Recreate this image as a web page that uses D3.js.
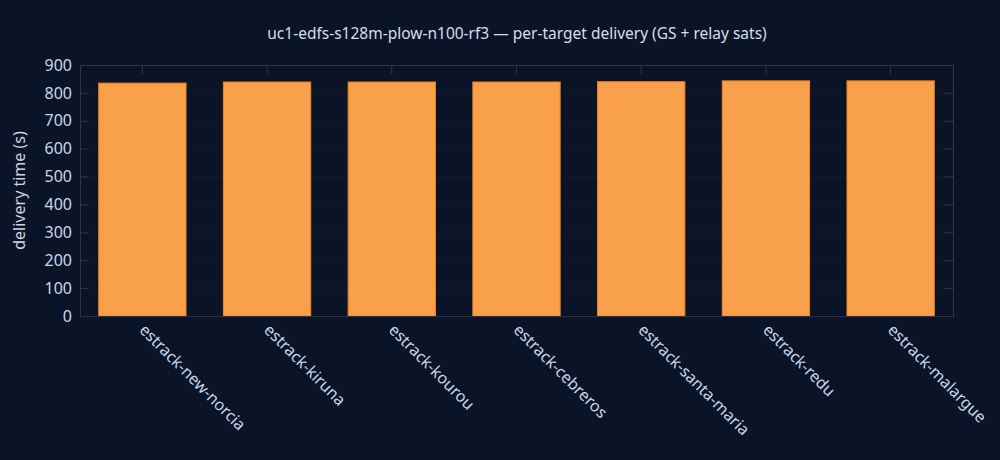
<!DOCTYPE html>
<html>
<head>
<meta charset="utf-8">
<script src="https://cdn.jsdelivr.net/npm/d3@7"></script>
<style>
  body { margin: 0; background: #0b1426; }
  svg { display: block; }
  svg text { font-family: "Noto Sans", "Open Sans", sans-serif; }
</style>
</head>
<body>
<div id="chart"></div>
<script>
// data
const targets = ["estrack-new-norcia", "estrack-kiruna", "estrack-kourou", "estrack-cebreros",
                 "estrack-santa-maria", "estrack-redu", "estrack-malargue"]
const deliverySec = [835, 839, 839, 839, 840, 843, 843]
const yTicks = [0, 100, 200, 300, 400, 500, 600, 700, 800, 900]

const dims = {
  width: 1000,
  height: 460,
  margin: { top: 65, right: 47, bottom: 144, left: 80 }
}
dims.boundedWidth = dims.width - dims.margin.left - dims.margin.right
dims.boundedHeight = dims.height - dims.margin.top - dims.margin.bottom

const axisCol = "#2a3650"
const textCol = "#c9d6ea"
const fontSize = "16px"

const svg = d3.select("#chart").append("svg")
  .attr("width", dims.width)
  .attr("height", dims.height)

svg.append("rect").attr("width", dims.width).attr("height", dims.height).attr("fill", "#0b1426")

svg.append("text")
  .attr("x", 517).attr("y", 39)
  .attr("text-anchor", "middle")
  .attr("fill", "#d3deee")
  .style("font-size", "15.5px")
  .text("uc1-edfs-s128m-plow-n100-rf3 — per-target delivery (GS + relay sats)")

const bounds = svg.append("g")
  .attr("transform", `translate(${dims.margin.left},${dims.margin.top})`)

const x = d3.scaleBand()
  .domain(targets)
  .range([0, dims.boundedWidth])
  .paddingInner(0.3)
  .paddingOuter(0.15)

const y = d3.scaleLinear()
  .domain([0, 900])
  .range([dims.boundedHeight, 0])

// dotted grid
bounds.append("g")
  .selectAll("line")
  .data(yTicks.slice(1, -1))
  .join("line")
  .attr("x1", 0).attr("x2", dims.boundedWidth)
  .attr("y1", d => y(d)).attr("y2", d => y(d))
  .attr("stroke", "#1f2b42")
  .attr("stroke-dasharray", "1,3")

// bars
bounds.selectAll("rect.bar")
  .data(targets)
  .join("rect")
  .attr("class", "bar")
  .attr("x", d => x(d))
  .attr("width", x.bandwidth())
  .attr("y", (d, i) => y(deliverySec[i]))
  .attr("height", (d, i) => dims.boundedHeight - y(deliverySec[i]))
  .attr("fill", "#f9a04a")
  .attr("stroke", "#f5821f")
  .attr("stroke-width", 1)

// left axis
const yAxis = bounds.append("g")
  .call(d3.axisLeft(y).tickValues(yTicks).tickSize(0).tickPadding(8))
  .attr("font-family", null).attr("font-size", null)
yAxis.select(".domain").attr("stroke", axisCol)
yAxis.selectAll("text").attr("fill", textCol).style("font-size", fontSize)

// inner ticks left & right
bounds.append("g").call(d3.axisRight(y).tickValues(yTicks.slice(1, -1)).tickSize(8).tickFormat(""))
  .call(g => g.select(".domain").remove())
  .selectAll("line").attr("stroke", axisCol)
bounds.append("g").attr("transform", `translate(${dims.boundedWidth},0)`)
  .call(d3.axisLeft(y).tickValues(yTicks.slice(1, -1)).tickSize(8).tickFormat(""))
  .call(g => g.select(".domain").attr("stroke", axisCol))
  .selectAll("line").attr("stroke", axisCol)

// top mirror axis
bounds.append("g")
  .call(d3.axisBottom(x).tickSize(9).tickFormat(""))
  .call(g => g.select(".domain").attr("stroke", axisCol))
  .selectAll("line").attr("stroke", axisCol)

// bottom axis
const xAxis = bounds.append("g")
  .attr("transform", `translate(0,${dims.boundedHeight})`)
  .call(d3.axisBottom(x).tickSize(0).tickPadding(10))
  .attr("font-family", null).attr("font-size", null)
xAxis.select(".domain").attr("stroke", axisCol)
xAxis.selectAll("text")
  .attr("fill", textCol)
  .style("font-size", fontSize)
  .attr("dy", "0.35em")
  .attr("y", 0)
  .attr("transform", "translate(0,11)rotate(45)")
  .style("text-anchor", "start")

svg.append("text")
  .attr("transform", `translate(25,${dims.margin.top + dims.boundedHeight / 2})rotate(-90)`)
  .attr("text-anchor", "middle")
  .attr("fill", textCol)
  .style("font-size", fontSize)
  .text("delivery time (s)")
</script>
</body>
</html>
